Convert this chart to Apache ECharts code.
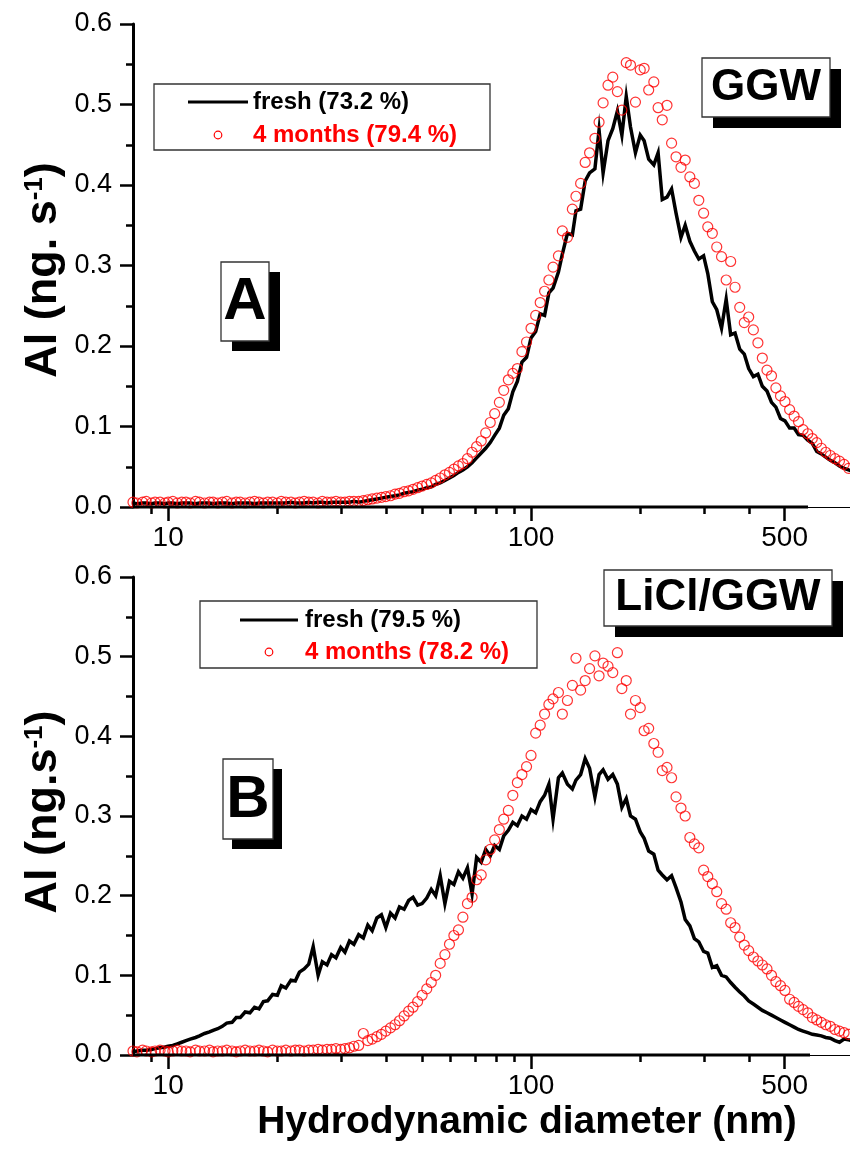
<!DOCTYPE html>
<html>
<head>
<meta charset="utf-8">
<title>Al size distributions (GGW and LiCl/GGW)</title>
<script src="https://cdn.jsdelivr.net/npm/echarts@6/dist/echarts.min.js"></script>
<style>
  html, body { margin: 0; padding: 0; background: #fff; }
  #chart { width: 850px; height: 1151px; }
</style>
</head>
<body>
<div id="chart"></div>
<script>
// Hydrodynamic diameter bins (nm), log-spaced
const diameters = [8, 8.2, 8.5, 8.7, 9.0, 9.2, 9.5, 9.8,
  10, 10.3, 10.6, 10.9, 11.2, 11.5, 11.9, 12.2, 12.6, 13.0, 13.3, 13.7, 14.1, 14.5, 15.0, 15.4, 15.8, 16.3, 16.8, 17.3, 17.8, 18.3,
  18.8, 19.4, 20.0, 20.5, 21.1, 21.8, 22.4, 23.0, 23.7, 24.4, 25.1, 25.9, 26.6, 27.4, 28.2, 29.0, 29.9, 30.7, 31.6, 32.5,
  33.5, 34.5, 35.5, 36.5, 37.6, 38.7, 39.8, 41.0, 42.2, 43.4, 44.7, 46.0, 47.3, 48.7, 50.1, 51.6, 53.1, 54.6, 56.2, 57.9,
  59.6, 61.3, 63.1, 64.9, 66.8, 68.8, 70.8, 72.9, 75.0, 77.2, 79.4, 81.8, 84.1, 86.6, 89.1, 91.7, 94.4, 97.2,
  100, 103, 106, 109, 112, 115, 119, 122, 126, 130, 133, 137, 141, 145, 150, 154, 158, 163, 168, 173,
  178, 183, 188, 194, 200, 205, 211, 218, 224, 230, 237, 244, 251, 259, 266, 274, 282, 290, 299, 307,
  316, 325, 335, 345, 355, 365, 376, 387, 398, 410, 422, 434, 447, 460, 473, 487, 501, 516, 531, 546,
  562, 579, 596, 613, 631, 649, 668, 688, 708, 729, 750, 772, 794, 818];

// Panel A (GGW): Al signal, ng.s-1
const aFresh = [0.005, 0.004, 0.005, 0.005, 0.004, 0.005, 0.005, 0.004, 0.005, 0.005,
  0.004, 0.005, 0.005, 0.005, 0.004, 0.005, 0.005, 0.005, 0.004, 0.005,
  0.005, 0.005, 0.004, 0.005, 0.005, 0.005, 0.005, 0.004, 0.005, 0.005,
  0.005, 0.005, 0.005, 0.005, 0.005, 0.006, 0.005, 0.005, 0.005, 0.006,
  0.005, 0.006, 0.006, 0.005, 0.006, 0.006, 0.006, 0.006, 0.006, 0.007,
  0.006, 0.007, 0.008, 0.009, 0.010, 0.011, 0.012, 0.013, 0.014, 0.015,
  0.017, 0.018, 0.019, 0.021, 0.022, 0.024, 0.025, 0.028, 0.030, 0.033,
  0.036, 0.039, 0.043, 0.046, 0.050, 0.055, 0.061, 0.067, 0.073, 0.080,
  0.089, 0.098, 0.114, 0.122, 0.143, 0.156, 0.180, 0.186, 0.210, 0.218,
  0.240, 0.238, 0.266, 0.272, 0.292, 0.314, 0.340, 0.338, 0.368, 0.370,
  0.405, 0.415, 0.420, 0.468, 0.415, 0.455, 0.470, 0.492, 0.462, 0.510,
  0.472, 0.440, 0.462, 0.455, 0.432, 0.425, 0.440, 0.382, 0.385, 0.395,
  0.365, 0.335, 0.350, 0.330, 0.318, 0.308, 0.312, 0.290, 0.255, 0.245,
  0.222, 0.258, 0.214, 0.216, 0.196, 0.190, 0.172, 0.162, 0.165, 0.150,
  0.144, 0.130, 0.124, 0.110, 0.107, 0.098, 0.098, 0.090, 0.089, 0.083,
  0.079, 0.069, 0.066, 0.062, 0.058, 0.055, 0.051, 0.048, 0.046, 0.044,
  0.042, 0.040];

const aAged = [0.006, 0.005, 0.006, 0.007, 0.005, 0.006, 0.006, 0.005, 0.006, 0.007,
  0.005, 0.006, 0.006, 0.005, 0.007, 0.006, 0.005, 0.006, 0.006, 0.005,
  0.006, 0.007, 0.005, 0.006, 0.006, 0.005, 0.006, 0.007, 0.006, 0.005,
  0.006, 0.006, 0.005, 0.007, 0.006, 0.006, 0.005, 0.006, 0.007, 0.006,
  0.006, 0.005, 0.007, 0.006, 0.006, 0.007, 0.006, 0.006, 0.007, 0.007,
  0.007, 0.008, 0.009, 0.010, 0.011, 0.012, 0.013, 0.014, 0.016, 0.017,
  0.019, 0.020, 0.022, 0.024, 0.026, 0.028, 0.030, 0.033, 0.036, 0.040,
  0.043, 0.047, 0.051, 0.054, 0.060, 0.068, 0.075, 0.082, 0.092, 0.105,
  0.116, 0.130, 0.145, 0.158, 0.166, 0.172, 0.193, 0.205, 0.222, 0.238,
  0.254, 0.268, 0.282, 0.298, 0.312, 0.343, 0.335, 0.370, 0.386, 0.402,
  0.428, 0.440, 0.458, 0.478, 0.502, 0.524, 0.534, 0.516, 0.493, 0.552,
  0.549, 0.503, 0.543, 0.545, 0.518, 0.528, 0.496, 0.481, 0.499, 0.452,
  0.435, 0.422, 0.431, 0.410, 0.402, 0.381, 0.365, 0.348, 0.340, 0.323,
  0.311, 0.282, 0.305, 0.273, 0.248, 0.229, 0.236, 0.220, 0.204, 0.185,
  0.170, 0.163, 0.148, 0.138, 0.131, 0.121, 0.113, 0.106, 0.096, 0.091,
  0.085, 0.080, 0.073, 0.068, 0.064, 0.060, 0.057, 0.053, 0.048, 0.045,
  0.042, 0.040];

// Panel B (LiCl/GGW)
const bFresh = [0.004, 0.005, 0.006, 0.006, 0.007, 0.008, 0.009, 0.010, 0.011, 0.012,
  0.014, 0.016, 0.018, 0.020, 0.022, 0.024, 0.027, 0.029, 0.031, 0.033,
  0.036, 0.040, 0.041, 0.047, 0.047, 0.054, 0.053, 0.060, 0.058, 0.067,
  0.068, 0.076, 0.075, 0.087, 0.084, 0.094, 0.093, 0.104, 0.108, 0.114,
  0.136, 0.100, 0.117, 0.113, 0.126, 0.122, 0.135, 0.129, 0.143, 0.139,
  0.151, 0.147, 0.163, 0.156, 0.172, 0.176, 0.160, 0.178, 0.172, 0.186,
  0.183, 0.194, 0.198, 0.188, 0.190, 0.197, 0.208, 0.200, 0.225, 0.190,
  0.218, 0.214, 0.230, 0.222, 0.235, 0.202, 0.248, 0.242, 0.258, 0.250,
  0.263, 0.258, 0.275, 0.282, 0.292, 0.288, 0.300, 0.296, 0.308, 0.304,
  0.318, 0.326, 0.340, 0.296, 0.348, 0.354, 0.340, 0.334, 0.345, 0.352,
  0.372, 0.360, 0.324, 0.352, 0.358, 0.346, 0.352, 0.340, 0.311, 0.322,
  0.300, 0.296, 0.280, 0.272, 0.256, 0.252, 0.232, 0.226, 0.220, 0.225,
  0.210, 0.192, 0.170, 0.162, 0.146, 0.142, 0.130, 0.128, 0.110, 0.112,
  0.100, 0.098, 0.091, 0.085, 0.079, 0.074, 0.068, 0.064, 0.060, 0.056,
  0.053, 0.050, 0.047, 0.044, 0.041, 0.038, 0.035, 0.032, 0.030, 0.028,
  0.026, 0.025, 0.024, 0.022, 0.021, 0.018, 0.016, 0.020, 0.019, 0.018,
  0.017, 0.016];

const bAged = [0.005, 0.004, 0.006, 0.005, 0.004, 0.005, 0.006, 0.005, 0.004, 0.005,
  0.006, 0.005, 0.005, 0.004, 0.006, 0.005, 0.005, 0.006, 0.004, 0.005,
  0.005, 0.006, 0.005, 0.004, 0.005, 0.006, 0.005, 0.005, 0.006, 0.005,
  0.004, 0.006, 0.005, 0.005, 0.006, 0.005, 0.006, 0.006, 0.005, 0.006,
  0.006, 0.007, 0.006, 0.007, 0.007, 0.008, 0.007, 0.008, 0.009, 0.011,
  0.012, 0.027, 0.018, 0.020, 0.023, 0.026, 0.030, 0.034, 0.038, 0.043,
  0.049, 0.055, 0.060, 0.067, 0.075, 0.083, 0.091, 0.100, 0.115, 0.126,
  0.139, 0.150, 0.157, 0.173, 0.190, 0.198, 0.220, 0.226, 0.245, 0.258,
  0.270, 0.283, 0.296, 0.307, 0.326, 0.342, 0.352, 0.362, 0.376, 0.404,
  0.414, 0.428, 0.440, 0.447, 0.455, 0.428, 0.445, 0.464, 0.498, 0.458,
  0.470, 0.485, 0.501, 0.476, 0.492, 0.488, 0.480, 0.505, 0.460, 0.470,
  0.428, 0.445, 0.436, 0.407, 0.410, 0.391, 0.380, 0.357, 0.361, 0.348,
  0.324, 0.310, 0.300, 0.273, 0.265, 0.260, 0.232, 0.224, 0.215, 0.205,
  0.190, 0.183, 0.166, 0.160, 0.148, 0.138, 0.131, 0.123, 0.118, 0.113,
  0.108, 0.100, 0.092, 0.087, 0.081, 0.070, 0.066, 0.061, 0.057, 0.053,
  0.047, 0.044, 0.041, 0.038, 0.036, 0.032, 0.030, 0.028, 0.026, 0.024,
  0.022, 0.021];

// Axis ticks
const xLabelTicks = [10, 100, 500];
const xMinorTicks = [9, 20, 30, 40, 50, 60, 70, 80, 90, 200, 300, 400];
const xRange = [8, 757];
const yRange = [0, 0.6];

// Legend / panel texts
const panels = [
  { tag: 'A', sample: 'GGW', fresh: 'fresh (73.2 %)', aged: '4 months (79.4 %)', yTitle: 'Al (ng. s' },
  { tag: 'B', sample: 'LiCl/GGW', fresh: 'fresh (79.5 %)', aged: '4 months (78.2 %)', yTitle: 'Al (ng.s' }
];
const xTitle = 'Hydrodynamic diameter (nm)';

const FONT = '"Liberation Sans", Arial, Helvetica, sans-serif';
const pairs = (xs, ys) => xs.map((x, i) => [x, ys[i]]);

const grids = [
  { left: 133, top: 24, width: 717, height: 483 },
  { left: 133, top: 577, width: 717, height: 478 }
];

const xAxes = [];
const yAxes = [];
grids.forEach((g, gi) => {
  // labelled decades plus 500
  xAxes.push({
    type: 'log', logBase: 10, gridIndex: gi, position: 'bottom', min: xRange[0], max: xRange[1],
    axisLine: { show: true, lineStyle: { color: '#000', width: 1 } },
    axisTick: { show: true, customValues: xLabelTicks, length: 14, lineStyle: { color: '#000', width: 2.5 } },
    axisLabel: { show: true, customValues: xLabelTicks, fontSize: 28, color: '#000', fontFamily: FONT, margin: 17 },
    splitLine: { show: false }, minorTick: { show: false }
  });
  // short intermediate ticks on the same baseline
  xAxes.push({
    type: 'log', logBase: 10, gridIndex: gi, position: 'bottom', offset: 0, min: xRange[0], max: xRange[1],
    axisLine: { show: false },
    axisTick: { show: true, customValues: xMinorTicks, length: 7, lineStyle: { color: '#000', width: 2.5 } },
    axisLabel: { show: false },
    splitLine: { show: false }
  });
  yAxes.push({
    type: 'value', gridIndex: gi, min: yRange[0], max: yRange[1], interval: 0.1,
    axisLine: { show: true, lineStyle: { color: '#000', width: 3 } },
    axisTick: { show: true, length: 13, lineStyle: { color: '#000', width: 2.5 } },
    minorTick: { show: true, splitNumber: 2, length: 7, lineStyle: { color: '#000', width: 2.5 } },
    axisLabel: { formatter: v => v.toFixed(1), fontSize: 27, color: '#000', fontFamily: FONT, margin: 21 },
    splitLine: { show: false }
  });
});

function lineSeries(xi, yi, ys) {
  return {
    type: 'line', xAxisIndex: xi, yAxisIndex: yi, data: pairs(diameters, ys),
    showSymbol: false, symbol: 'none', clip: true, z: 2,
    lineStyle: { color: '#000', width: 3.5, join: 'miter' }
  };
}
function dotSeries(xi, yi, ys) {
  return {
    type: 'scatter', xAxisIndex: xi, yAxisIndex: yi, data: pairs(diameters, ys),
    symbol: 'circle', symbolSize: 10, clip: true, z: 3,
    itemStyle: { color: 'rgba(0,0,0,0)', borderColor: '#ff0000', borderWidth: 1.2 }
  };
}

// Decorations: legends, sample labels, panel tags, titles
const txt = (x, y, text, size, color, align, extra) => Object.assign({
  type: 'text', x: x, y: y, z: 10,
  style: {
    text: text, fill: color, fontSize: size, fontWeight: 'bold', fontFamily: FONT,
    align: align, textAlign: align, verticalAlign: 'middle', textVerticalAlign: 'middle'
  }
}, extra || {});
const box = (x, y, w, h, fill, stroke) => ({
  type: 'rect', z: 9, shape: { x: x, y: y, width: w, height: h },
  style: { fill: fill, stroke: stroke || null, lineWidth: stroke ? 1.3 : 0 }
});
const shadowBox = (x, y, w, h, dx, dy) => [
  box(x + dx, y + dy, w, h, '#000'),
  box(x, y, w, h, '#fff', '#333')
];
function legend(x, y, w, h, lineX1, lineX2, rowY1, rowY2, dotX, textX, p) {
  return [
    box(x, y, w, h, '#fff', '#333'),
    { type: 'line', z: 10, shape: { x1: lineX1, y1: rowY1, x2: lineX2, y2: rowY1 }, style: { stroke: '#000', lineWidth: 3 } },
    { type: 'circle', z: 10, shape: { cx: dotX, cy: rowY2, r: 3.8 }, style: { fill: 'none', stroke: '#ff0000', lineWidth: 1.2 } },
    txt(textX, rowY1, p.fresh, 24, '#000', 'left'),
    txt(textX, rowY2, p.aged, 24, '#ff0000', 'left')
  ];
}
function yTitle(x, y, p) {
  return {
    type: 'text', x: x, y: y, rotation: Math.PI / 2, z: 10,
    style: {
      text: p.yTitle + '{sup|-1}' + ')', fill: '#000', fontSize: 45, fontWeight: 'bold', fontFamily: FONT,
      align: 'center', textAlign: 'center', verticalAlign: 'middle', textVerticalAlign: 'middle',
      rich: { sup: { fontSize: 26, fontWeight: 'bold', fontFamily: FONT, fill: '#000', verticalAlign: 'top', lineHeight: 45 } }
    }
  };
}

const graphics = [].concat(
  // heavy stretch of each x axis baseline
  [{ type: 'line', z: 8, shape: { x1: 133, y1: 507, x2: 808, y2: 507 }, style: { stroke: '#000', lineWidth: 3 } },
   { type: 'line', z: 8, shape: { x1: 133, y1: 1055, x2: 810, y2: 1055 }, style: { stroke: '#000', lineWidth: 3 } }],
  legend(154, 84, 336, 66, 188, 248, 102, 135, 218, 253, panels[0]),
  legend(200, 601, 337, 67, 240, 298, 620, 652, 269, 305, panels[1]),
  shadowBox(702, 58, 128, 59, 11, 11),
  [txt(766, 88, panels[0].sample, 44, '#000', 'center')],
  shadowBox(604, 570, 228, 56, 11, 11),
  [txt(718, 598, panels[1].sample, 44, '#000', 'center')],
  shadowBox(221, 262, 48, 79, 11, 10),
  [txt(245, 302, panels[0].tag, 60, '#000', 'center')],
  shadowBox(223, 759, 50, 80, 9, 10),
  [txt(248, 800, panels[1].tag, 60, '#000', 'center')],
  [yTitle(44, 270, panels[0]), yTitle(44, 812, panels[1])],
  [txt(527, 1122, xTitle, 39, '#000', 'center')]
);

const chart = echarts.init(document.getElementById('chart'), null, { renderer: 'canvas' });
chart.setOption({
  animation: false,
  backgroundColor: '#fff',
  grid: grids,
  xAxis: xAxes,
  yAxis: yAxes,
  series: [
    lineSeries(0, 0, aFresh),
    dotSeries(0, 0, aAged),
    lineSeries(2, 1, bFresh),
    dotSeries(2, 1, bAged)
  ],
  graphic: { elements: graphics }
});
</script>
</body>
</html>
